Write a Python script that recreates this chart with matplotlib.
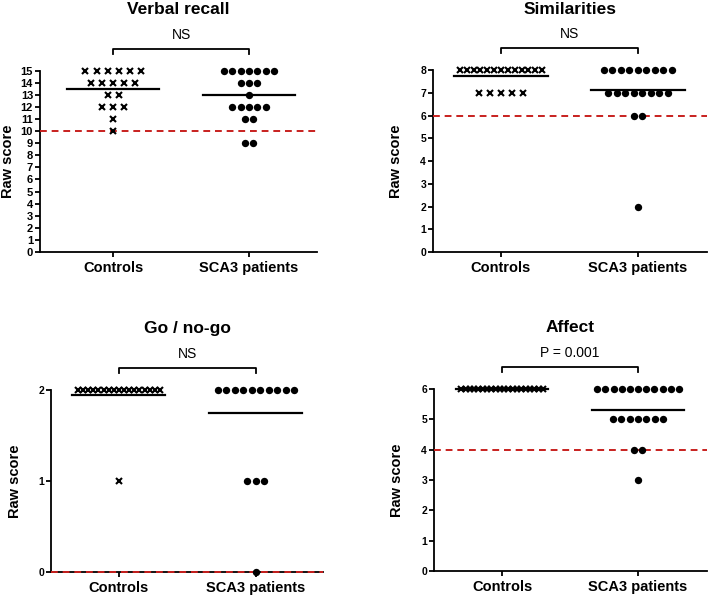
import numpy as np
import matplotlib.pyplot as plt
import matplotlib.transforms as mtransforms

plt.rcParams['font.family'] = ['Liberation Sans', 'DejaVu Sans']

groups = ['Controls', 'SCA3 patients']

# score values and how many subjects sit on each score, per panel and group
verbal_ctrl_scores = [15, 14, 13, 12, 11, 10]
verbal_ctrl_counts = [6, 5, 2, 3, 1, 1]
verbal_sca3_scores = [15, 14, 13, 12, 11, 9]
verbal_sca3_counts = [7, 3, 1, 5, 2, 2]

simil_ctrl_scores = [8, 7]
simil_ctrl_counts = [13, 5]
simil_sca3_scores = [8, 7, 6, 2]
simil_sca3_counts = [9, 8, 2, 1]

gonogo_ctrl_scores = [2, 1]
gonogo_ctrl_counts = [17, 1]
gonogo_sca3_scores = [2, 1, 0]
gonogo_sca3_counts = [10, 3, 1]

affect_ctrl_scores = [6]
affect_ctrl_counts = [20]
affect_sca3_scores = [6, 5, 4, 3]
affect_sca3_counts = [11, 7, 2, 1]

# group means (horizontal bars)
verbal_means = [13.5, 13.0]
simil_means = [7.72, 7.1]
gonogo_means = [1.94, 1.75]
affect_means = [6.0, 5.3]

titles = ['Verbal recall', 'Similarities', 'Go / no-go', 'Affect']
stats_text = ['NS', 'NS', 'NS', 'P = 0.001']
cutoffs = [10, 6, 0, 4]
ymax = [15, 8, 2, 6]

W, H = 708, 597
fig = plt.figure(figsize=(W / 100, H / 100), dpi=100)

# axes boxes in pixels: left, right, top, bottom, xlim, ylabel right edge
boxes = [(40, 317, 70.7, 252, (-0.537, 1.5), 15),
         (433, 707, 70, 252, (-0.496, 1.504), 403),
         (51, 323, 390, 572, (-0.496, 1.49), 22),
         (434, 707, 389, 571, (-0.5, 1.507), 404)]

panels = [
    (verbal_ctrl_scores, verbal_ctrl_counts, verbal_sca3_scores, verbal_sca3_counts, verbal_means),
    (simil_ctrl_scores, simil_ctrl_counts, simil_sca3_scores, simil_sca3_counts, simil_means),
    (gonogo_ctrl_scores, gonogo_ctrl_counts, gonogo_sca3_scores, gonogo_sca3_counts, gonogo_means),
    (affect_ctrl_scores, affect_ctrl_counts, affect_sca3_scores, affect_sca3_counts, affect_means),
]


def row_x(center, n, step, maxw=0.6):
    if n > 1:
        step = min(step, maxw / (n - 1))
    return center + (np.arange(n) - (n - 1) / 2) * step


for i, (cs, cc, ss, sc, means) in enumerate(panels):
    l, r, t, b, xl, lab_x = boxes[i]
    ax = fig.add_axes([l / W, 1 - b / H, (r - l) / W, (b - t) / H])
    ax.set_xlim(*xl)
    ax.set_ylim(0, ymax[i])

    for s, n in zip(cs, cc):
        xs = row_x(0, n, 0.081)
        ax.plot(xs, [s] * n, 'x', color='black', ms=4.5, mew=1.5, clip_on=False, zorder=6)
    for s, n in zip(ss, sc):
        xs = row_x(1, n, 0.062)
        ax.plot(xs, [s] * n, 'o', color='black', ms=5.3, mew=0, clip_on=False, zorder=6)

    for gx, m in zip([0, 1], means):
        ax.plot([gx - 0.34, gx + 0.34], [m, m], color='black', lw=1.6, clip_on=False, zorder=3)

    ax.axhline(cutoffs[i], color='#c8201e', lw=1.4, ls=(0, (3.5, 2.5)), zorder=5, clip_on=False)

    for side in ['top', 'right']:
        ax.spines[side].set_visible(False)
    for side in ['left', 'bottom']:
        ax.spines[side].set_linewidth(1.3)

    ax.set_xticks([0, 1])
    ax.set_xticklabels(groups, fontsize=10.5, fontweight='bold')
    ax.set_yticks(range(ymax[i] + 1))
    ax.set_yticklabels([str(v) for v in range(ymax[i] + 1)],
                       fontsize=8 if i == 0 else 7.5, fontweight='bold')
    ax.tick_params(axis='both', length=3.5, width=1.3, pad=1.5)
    ax.tick_params(axis='x', pad=3)
    ax.set_ylabel('Raw score', fontsize=10.5, fontweight='bold')
    ax.yaxis.set_label_coords((lab_x - l) / (r - l), 0.5)

    # bracket, stats text and title above the axes
    tr = mtransforms.blended_transform_factory(ax.transData, fig.transFigure)
    yb = 1 - (t - 22) / H
    yt = 1 - (t - 17) / H
    ax.plot([0, 0, 1, 1], [yt, yb, yb, yt], color='black', lw=1.3, transform=tr, clip_on=False)
    ax.text(0.5, 1 - (t - 36) / H, stats_text[i], transform=tr, ha='center', va='center', fontsize=10)
    fig.text((l + r) / 2 / W, 1 - (t - (61 if i < 2 else 62)) / H, titles[i],
             ha='center', va='center', fontsize=12.5, fontweight='bold')

fig.savefig('out.png', dpi=100)
